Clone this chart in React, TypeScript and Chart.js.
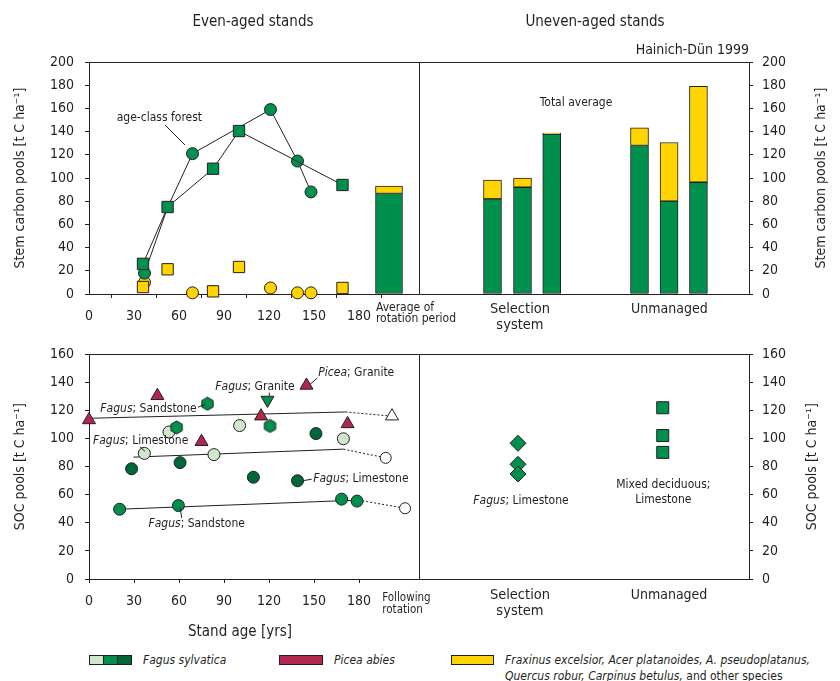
import React, { useEffect, useRef } from 'react';
import { Chart, registerables } from 'chart.js';

Chart.register(...registerables);

const FAMILY = "'DejaVu Sans Condensed', 'DejaVu Sans', sans-serif";
const INK = '#231f20';
const GREEN = '#00904E';
const DARK_GREEN = '#00673A';
const LIGHT_GREEN = '#CFE8CB';
const CRIMSON = '#B2264F';
const YELLOW = '#FFD400';

// ---------- shared axis data ----------
const AGE_TICKS = [0, 30, 60, 90, 120, 150, 180];
const X_MAX = 440;
const DIVIDER = 220;
const STEM_MAX = 200;
const SOC_MAX = 160;
const TICK_STEP = 20;

// ---------- top panel: stem carbon pools ----------
const circleAges = [37, 52.5, 69, 121, 139, 148];
const circleFagusStem = [18, 75, 121, 159, 114.6, 88];
const circleShown = [true, false, true, true, true, true];
const circleOtherAges = [37, 69, 121, 139, 148];
const circleOtherStem = [10, 1, 5.2, 1, 1];
const squareAges = [36, 52.4, 82.7, 100, 169];
const squareFagusStem = [26, 75, 108, 140.5, 94];
const squareOtherStem = [6, 21.3, 2.3, 23.3, 5.2];

const rotationSlot = 200;
const rotationFagus = 86.6;
const rotationTotal = 93;
const selectionSlots = [269, 289, 308.5];
const selectionFagus = [82, 92, 137.8];
const selectionTotal = [98.3, 100, 138.7];
const unmanagedSlots = [367, 386.7, 406.3];
const unmanagedFagus = [128, 80, 96.3];
const unmanagedTotal = [143.2, 130.6, 179];

// ---------- bottom panel: SOC pools ----------
const piceaAges = [0, 45.6, 75, 114.7, 145, 172.4];
const piceaSoc = [113.3, 130.5, 97.8, 116, 137.9, 110.5];
const piceaTrendAges = [0, 171];
const piceaTrend = [114.5, 119];
const piceaNextAge = 202;
const piceaNext = 116;

const graniteAges = [119];
const graniteSoc = [127.5];

const hexAges = [58.4, 79, 120.7];
const hexSoc = [108, 124.8, 109];

const lightAges = [36.9, 53.3, 83.3, 100.4, 169.6];
const lightSoc = [89.5, 104.7, 88.6, 109.3, 99.9];
const lightTrendAges = [29.6, 169.6];
const lightTrend = [86.8, 92.5];
const lightNextAge = 197.8;
const lightNext = 86.3;

const darkAges = [28.4, 60.7, 109.6, 139, 151.3];
const darkSoc = [78.5, 82.9, 72.5, 70, 103.6];

const midAges = [20.4, 59.6, 168.4, 178.7];
const midSoc = [49.7, 52.3, 56.9, 55.5];
const midTrendAges = [20.4, 179.6];
const midTrend = [49.7, 56.2];
const midNextAge = 210.7;
const midNext = 50.4;

const selectionSocSlot = 286;
const selectionSoc = [96.7, 81.7, 74.8];
const unmanagedSocSlot = 382.5;
const unmanagedSoc = [122, 102.2, 90.2];

// ---------- text ----------
type Seg = { s: string; i?: boolean };
type Note = { segs: Seg[]; u: number; v: number; align: CanvasTextAlign; size: number };
type Pointer = [number, number, number, number];
type Cat = { lines: string[]; u: number; align: CanvasTextAlign; size: number; dy: number[] };

const fagus = (rest: string): Seg[] => [{ s: 'Fagus', i: true }, { s: rest }];

const topNotes: Note[] = [
  { segs: [{ s: 'age-class forest' }], u: 18.5, v: 151.7, align: 'left', size: 12 },
  { segs: [{ s: 'Total average' }], u: 324.7, v: 164.7, align: 'center', size: 12 },
];
const topPointers: Pointer[] = [[50.7, 145.7, 64, 128.4]];
const topCats: Cat[] = [
  { lines: ['Average of', 'rotation period'], u: 191.3, align: 'left', size: 12, dy: [13.5, 25] },
  { lines: ['Selection', 'system'], u: 287.3, align: 'center', size: 14.5, dy: [15, 31] },
  { lines: ['Unmanaged'], u: 386.9, align: 'center', size: 14, dy: [15] },
];

const bottomNotes: Note[] = [
  { segs: fagus('; Sandstone'), u: 71.8, v: 121.3, align: 'right', size: 12 },
  { segs: fagus('; Limestone'), u: 66.2, v: 98.3, align: 'right', size: 12 },
  { segs: fagus('; Granite'), u: 110.7, v: 136.7, align: 'center', size: 12 },
  { segs: [{ s: 'Picea', i: true }, { s: '; Granite' }], u: 152.9, v: 146.6, align: 'left', size: 12 },
  { segs: fagus('; Limestone'), u: 149.5, v: 71.1, align: 'left', size: 12 },
  { segs: fagus('; Sandstone'), u: 71.8, v: 39.6, align: 'center', size: 12 },
  { segs: fagus('; Limestone'), u: 288, v: 55.7, align: 'center', size: 12 },
  { segs: [{ s: 'Mixed deciduous;' }], u: 382.9, v: 67.2, align: 'center', size: 12 },
  { segs: [{ s: 'Limestone' }], u: 382.9, v: 56.6, align: 'center', size: 12 },
];
const bottomPointers: Pointer[] = [
  [72.7, 122.4, 77.3, 124.3],
  [34, 94.1, 37.3, 91],
  [120.2, 132.8, 120.2, 130.5],
  [152.2, 143.2, 147.3, 138.6],
  [142.5, 70, 148.5, 71.1],
  [60.7, 51.1, 61.8, 43.5],
];
const bottomCats: Cat[] = [
  { lines: ['Following', 'rotation'], u: 195.5, align: 'left', size: 11.5, dy: [19, 31] },
  { lines: ['Selection', 'system'], u: 287.3, align: 'center', size: 14.5, dy: [16, 32] },
  { lines: ['Unmanaged'], u: 386.7, align: 'center', size: 14, dy: [16] },
];

// ---------- helpers ----------
const pts = (xs: number[], ys: number[]) => xs.map((x, i) => ({ x, y: ys[i] }));
const slotPts = (slot: number, ys: number[]) => ys.map((y) => ({ x: slot, y }));

function drawSegs(ctx: CanvasRenderingContext2D, segs: Seg[], x: number, y: number, align: CanvasTextAlign, size: number) {
  const fonts = segs.map((sg) => `${sg.i ? 'italic ' : ''}${size}px ${FAMILY}`);
  let total = 0;
  const widths = segs.map((sg, k) => {
    ctx.font = fonts[k];
    const w = ctx.measureText(sg.s).width;
    total += w;
    return w;
  });
  let cx = align === 'center' ? x - total / 2 : align === 'right' ? x - total : x;
  ctx.textAlign = 'left';
  ctx.textBaseline = 'middle';
  ctx.fillStyle = INK;
  segs.forEach((sg, k) => {
    ctx.font = fonts[k];
    ctx.fillText(sg.s, cx, y);
    cx += widths[k];
  });
}

function vTitle(ctx: CanvasRenderingContext2D, text: string, x: number, y: number, size: number) {
  ctx.save();
  ctx.translate(x, y);
  ctx.rotate(-Math.PI / 2);
  ctx.font = `${size}px ${FAMILY}`;
  ctx.fillStyle = INK;
  ctx.textAlign = 'center';
  ctx.textBaseline = 'middle';
  ctx.fillText(text, 0, 0);
  ctx.restore();
}

type Decor = {
  notes: Note[];
  pointers: Pointer[];
  cats: Cat[];
  leftTitle: string;
  rightTitleX: number;
  extra?: (ctx: CanvasRenderingContext2D, area: any) => void;
};

const makeDecor = (cfg: Decor) => ({
  id: 'decor',
  afterDraw(chart: any) {
    const { ctx, chartArea: a, scales } = chart;
    const px = (u: number) => scales.x.getPixelForValue(u);
    const py = (v: number) => scales.y.getPixelForValue(v);
    ctx.save();
    ctx.strokeStyle = INK;
    ctx.lineWidth = 1;
    ctx.beginPath();
    ctx.moveTo(a.left, Math.round(a.top) + 0.5);
    ctx.lineTo(a.right, Math.round(a.top) + 0.5);
    const dx = Math.round(px(DIVIDER)) + 0.5;
    ctx.moveTo(dx, a.top);
    ctx.lineTo(dx, a.bottom);
    ctx.stroke();
    ctx.beginPath();
    cfg.pointers.forEach(([u1, v1, u2, v2]) => {
      ctx.moveTo(px(u1), py(v1));
      ctx.lineTo(px(u2), py(v2));
    });
    ctx.stroke();
    cfg.notes.forEach((n) => drawSegs(ctx, n.segs, px(n.u), py(n.v), n.align, n.size));
    cfg.cats.forEach((c) => c.lines.forEach((line, k) => drawSegs(ctx, [{ s: line }], px(c.u), a.bottom + c.dy[k], c.align, c.size)));
    const mid = (a.top + a.bottom) / 2;
    vTitle(ctx, cfg.leftTitle, 20, mid, 14);
    vTitle(ctx, cfg.leftTitle, cfg.rightTitleX, mid, 14);
    if (cfg.extra) cfg.extra(ctx, a);
    ctx.restore();
  },
});

const xScale = (height: number) => ({
  type: 'linear',
  min: 0,
  max: X_MAX,
  offset: false,
  position: 'bottom',
  afterBuildTicks: (s: any) => {
    s.ticks = AGE_TICKS.map((v) => ({ value: v }));
  },
  afterFit: (s: any) => {
    s.height = height;
  },
  ticks: { autoSkip: false, maxRotation: 0, padding: 10, color: INK, font: { family: FAMILY, size: 14 }, callback: (v: any) => String(v) },
  grid: { drawOnChartArea: false, drawTicks: true, tickLength: 4, color: INK },
  border: { display: true, color: INK, width: 1 },
});

const yScale = (max: number, side: 'left' | 'right') => ({
  type: 'linear',
  min: 0,
  max,
  position: side,
  afterFit: (s: any) => {
    s.width = side === 'left' ? 89 : 91;
  },
  ticks: { stepSize: TICK_STEP, padding: side === 'left' ? 11 : 9, color: INK, font: { family: FAMILY, size: 14 } },
  grid: { drawOnChartArea: false, drawTicks: true, tickLength: 4, color: INK },
  border: { display: true, color: INK, width: 1 },
});

function hexagon(r: number, fill: string) {
  const c = document.createElement('canvas');
  const s = Math.ceil(r * 2 + 2);
  c.width = s;
  c.height = s;
  const g = c.getContext('2d')!;
  g.beginPath();
  for (let k = 0; k < 6; k++) {
    const ang = -Math.PI / 2 + (k * Math.PI) / 3;
    const X = s / 2 + r * Math.cos(ang);
    const Y = s / 2 + r * Math.sin(ang);
    if (k === 0) g.moveTo(X, Y);
    else g.lineTo(X, Y);
  }
  g.closePath();
  g.fillStyle = fill;
  g.fill();
  g.strokeStyle = INK;
  g.lineWidth = 1;
  g.stroke();
  return c;
}

const baseOptions = (padTop: number) => ({
  responsive: false,
  animation: false,
  devicePixelRatio: 1,
  events: [],
  layout: { padding: { top: padTop, left: 0, right: 0, bottom: 0 } },
  plugins: { legend: { display: false }, tooltip: { enabled: false } },
});

const marker = (data: any[], style: any, radius: any, fill: string, rotation = 0) => ({
  type: 'scatter',
  data,
  pointStyle: style,
  pointRadius: radius,
  pointRotation: rotation,
  pointBackgroundColor: fill,
  pointBorderColor: INK,
  pointBorderWidth: 1,
  showLine: false,
  clip: false,
});

const trend = (data: any[], dashed: boolean) => ({
  type: 'line',
  data,
  borderColor: INK,
  borderWidth: 1,
  borderDash: dashed ? [2, 2] : [],
  pointRadius: 0,
  fill: false,
  clip: false,
});

const bar = (data: any[], color: string, thickness: number) => ({
  type: 'bar',
  data,
  backgroundColor: color,
  borderColor: INK,
  borderWidth: 1,
  borderSkipped: false,
  barThickness: thickness,
  grouped: false,
  clip: false,
});

function TopChart() {
  const ref = useRef<HTMLCanvasElement>(null);
  useEffect(() => {
    const sqFagus = pts(squareAges, squareFagusStem);
    const cFagus = pts(circleAges, circleFagusStem);
    const slotsAll = [...selectionSlots, ...unmanagedSlots];
    const fagusAll = [...selectionFagus, ...unmanagedFagus];
    const totalAll = [...selectionTotal, ...unmanagedTotal];
    const chart = new Chart(ref.current!, {
      type: 'scatter',
      data: {
        datasets: [
          {
            type: 'line',
            data: sqFagus,
            borderColor: INK,
            borderWidth: 1,
            pointStyle: 'rect',
            pointRadius: 8,
            pointBackgroundColor: GREEN,
            pointBorderColor: INK,
            pointBorderWidth: 1,
            clip: false,
          },
          {
            type: 'line',
            data: cFagus,
            borderColor: INK,
            borderWidth: 1,
            pointStyle: 'circle',
            pointRadius: circleShown.map((s) => (s ? 6 : 0)),
            pointBackgroundColor: GREEN,
            pointBorderColor: INK,
            pointBorderWidth: 1,
            clip: false,
          },
          marker(pts(squareAges, squareOtherStem), 'rect', 8, YELLOW),
          marker(pts(circleOtherAges, circleOtherStem), 'circle', 6, YELLOW),
          bar([{ x: rotationSlot, y: rotationFagus }], GREEN, 27),
          bar([{ x: rotationSlot, y: [rotationFagus, rotationTotal] }], YELLOW, 27),
          bar(slotsAll.map((x, i) => ({ x, y: fagusAll[i] })), GREEN, 18),
          bar(slotsAll.map((x, i) => ({ x, y: [fagusAll[i], totalAll[i]] })), YELLOW, 18),
        ] as any,
      },
      options: {
        ...baseOptions(62),
        scales: { x: xScale(41), y: yScale(STEM_MAX, 'left'), y2: yScale(STEM_MAX, 'right') },
      } as any,
      plugins: [
        makeDecor({
          notes: topNotes,
          pointers: topPointers,
          cats: topCats,
          leftTitle: 'Stem carbon pools [t C ha⁻¹]',
          rightTitleX: 821,
          extra: (ctx, a) => {
            drawSegs(ctx, [{ s: 'Even-aged stands' }], 253, 22, 'center', 15);
            drawSegs(ctx, [{ s: 'Uneven-aged stands' }], 595, 22, 'center', 15);
            drawSegs(ctx, [{ s: 'Hainich-Dün 1999' }], a.right, 50, 'right', 14);
          },
        }) as any,
      ],
    });
    return () => chart.destroy();
  }, []);
  return <canvas ref={ref} width={840} height={335} style={{ position: 'absolute', left: 0, top: 0, width: 840, height: 335 }} />;
}

function BottomChart() {
  const ref = useRef<HTMLCanvasElement>(null);
  useEffect(() => {
    const hex = hexagon(6.5, GREEN);
    const chart = new Chart(ref.current!, {
      type: 'scatter',
      data: {
        datasets: [
          marker(pts(piceaAges, piceaSoc), 'triangle', 7.5, CRIMSON),
          marker(pts(graniteAges, graniteSoc), 'triangle', 7.5, GREEN, 180),
          marker(pts(hexAges, hexSoc), hex, 6.5, GREEN),
          marker(pts(lightAges, lightSoc), 'circle', 6, LIGHT_GREEN),
          marker(pts(darkAges, darkSoc), 'circle', 6, DARK_GREEN),
          marker(pts(midAges, midSoc), 'circle', 6, GREEN),
          marker([{ x: piceaNextAge, y: piceaNext }], 'triangle', 7.5, '#ffffff'),
          marker([{ x: lightNextAge, y: lightNext }], 'circle', 5.5, '#ffffff'),
          marker([{ x: midNextAge, y: midNext }], 'circle', 5.5, '#ffffff'),
          marker(slotPts(selectionSocSlot, selectionSoc), 'rectRot', 8, GREEN),
          marker(slotPts(unmanagedSocSlot, unmanagedSoc), 'rect', 8.5, GREEN),
          trend(pts(piceaTrendAges, piceaTrend), false),
          trend([{ x: piceaTrendAges[1], y: piceaTrend[1] }, { x: piceaNextAge, y: piceaNext }], true),
          trend(pts(lightTrendAges, lightTrend), false),
          trend([{ x: lightTrendAges[1], y: lightTrend[1] }, { x: lightNextAge, y: lightNext }], true),
          trend(pts(midTrendAges, midTrend), false),
          trend([{ x: midTrendAges[1], y: midTrend[1] }, { x: midNextAge, y: midNext }], true),
        ] as any,
      },
      options: {
        ...baseOptions(12),
        scales: { x: xScale(66), y: yScale(SOC_MAX, 'left'), y2: yScale(SOC_MAX, 'right') },
      } as any,
      plugins: [
        makeDecor({
          notes: bottomNotes,
          pointers: bottomPointers,
          cats: bottomCats,
          leftTitle: 'SOC pools [t C ha⁻¹]',
          rightTitleX: 812,
          extra: (ctx, a) => {
            drawSegs(ctx, [{ s: 'Stand age [yrs]' }], 240, a.bottom + 53, 'center', 15);
          },
        }) as any,
      ],
    });
    return () => chart.destroy();
  }, []);
  return <canvas ref={ref} width={840} height={310} style={{ position: 'absolute', left: 0, top: 335, width: 840, height: 310 }} />;
}

const legendText: React.CSSProperties = {
  position: 'absolute',
  fontFamily: FAMILY,
  fontSize: 12,
  lineHeight: '16px',
  color: INK,
  whiteSpace: 'nowrap',
};

const swatch = (left: number, width: number, bg: string): React.CSSProperties => ({
  position: 'absolute',
  left,
  top: 655,
  width,
  height: 10,
  background: bg,
  border: `1px solid ${INK}`,
  boxSizing: 'border-box',
});

export default function App() {
  return (
    <div style={{ position: 'fixed', left: 0, top: 0, width: 840, height: 681, background: '#fff', overflow: 'hidden' }}>
      <TopChart />
      <BottomChart />
      <div style={swatch(89, 15, LIGHT_GREEN)} />
      <div style={swatch(103, 15, GREEN)} />
      <div style={swatch(117, 15, DARK_GREEN)} />
      <div style={{ ...legendText, left: 143, top: 652, fontStyle: 'italic' }}>Fagus sylvatica</div>
      <div style={swatch(279, 44, CRIMSON)} />
      <div style={{ ...legendText, left: 334, top: 652, fontStyle: 'italic' }}>Picea abies</div>
      <div style={swatch(451, 43, YELLOW)} />
      <div style={{ ...legendText, left: 505, top: 652 }}>
        <i>Fraxinus excelsior, Acer platanoides, A. pseudoplatanus,</i>
        <br />
        <i>Quercus robur, Carpinus betulus,</i> and other species
      </div>
    </div>
  );
}
